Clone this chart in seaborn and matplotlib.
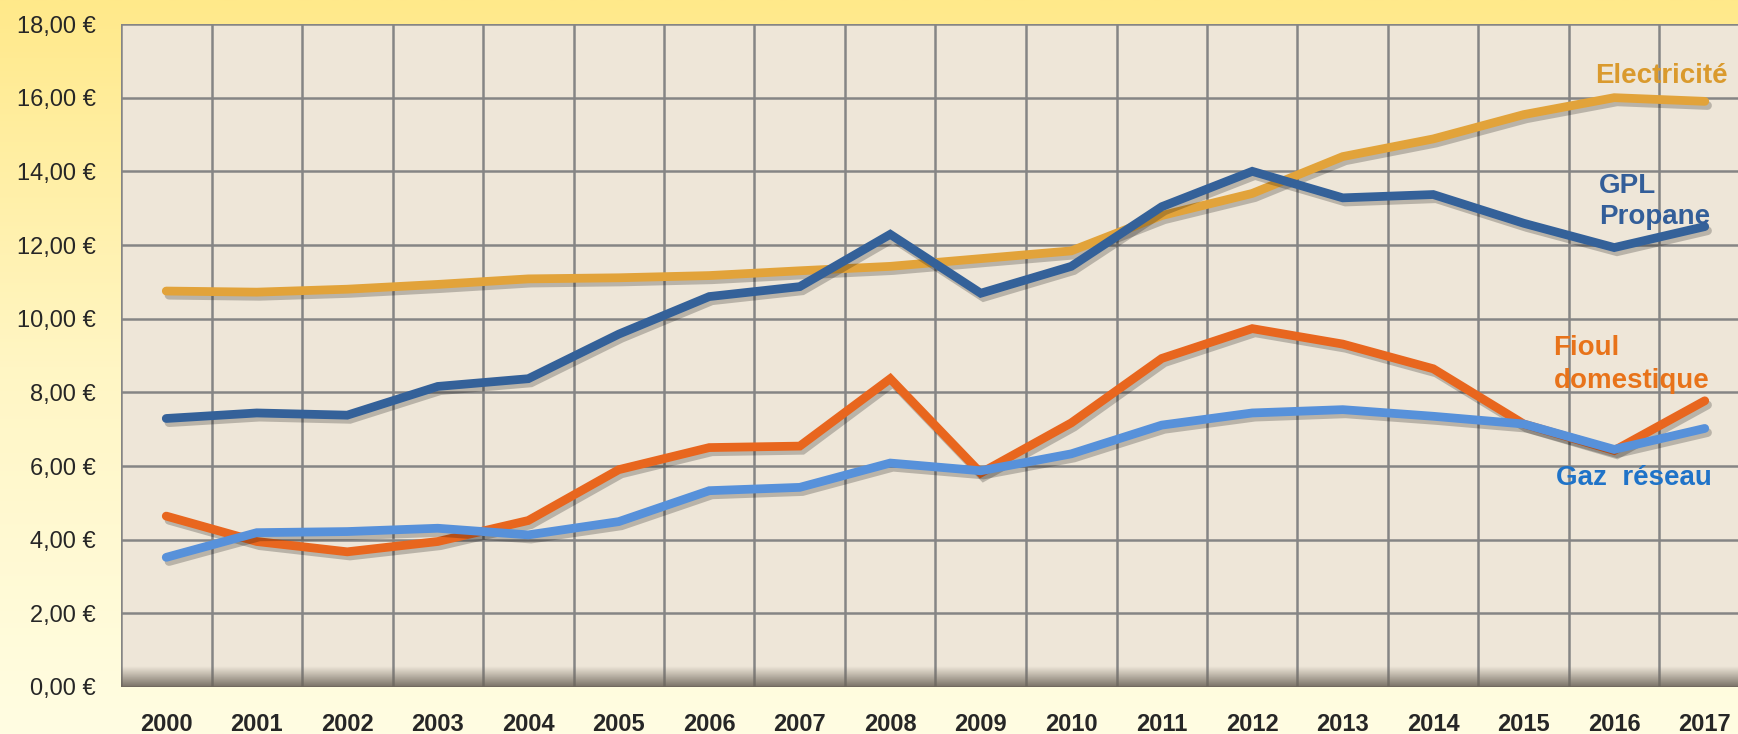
import numpy as np
import pandas as pd
import matplotlib
matplotlib.use("Agg")
import matplotlib.pyplot as plt
import matplotlib.patheffects as pe
from matplotlib.colors import LinearSegmentedColormap
import seaborn as sns

years = [str(y) for y in range(2000, 2018)]
electricite = [10.75, 10.72, 10.80, 10.93, 11.08, 11.11, 11.17, 11.30, 11.42, 11.63, 11.84, 12.80, 13.40, 14.40, 14.88, 15.54, 16.00, 15.90]
gpl = [7.29, 7.44, 7.38, 8.16, 8.37, 9.58, 10.60, 10.87, 12.29, 10.69, 11.42, 13.04, 14.00, 13.28, 13.37, 12.59, 11.93, 12.50]
fioul = [4.64, 3.95, 3.67, 3.95, 4.52, 5.90, 6.50, 6.54, 8.37, 5.81, 7.17, 8.92, 9.73, 9.31, 8.64, 7.14, 6.42, 7.77]
gaz = [3.52, 4.19, 4.22, 4.31, 4.13, 4.49, 5.33, 5.42, 6.08, 5.87, 6.33, 7.11, 7.44, 7.53, 7.35, 7.14, 6.45, 7.02]
series_names = ["Electricité", "GPL Propane", "Fioul domestique", "Gaz réseau"]
yticks = [0, 2, 4, 6, 8, 10, 12, 14, 16, 18]

line_colors = {"Electricité": "#E2A33A", "GPL Propane": "#346199", "Fioul domestique": "#E8661E", "Gaz réseau": "#5791DA"}

idx = list(range(len(years)))
df = pd.concat([
    pd.DataFrame({"x": idx, "value": vals, "serie": name})
    for name, vals in zip(series_names, [electricite, gpl, fioul, gaz])
], ignore_index=True)

sns.set_style("white")
plt.rcParams['font.family'] = ['Liberation Sans', 'DejaVu Sans']

fig = plt.figure(figsize=(17.38, 7.34), dpi=100)

# figure gradient background
bg = fig.add_axes([0, 0, 1, 1], zorder=-10)
grad = np.linspace(0, 1, 256).reshape(-1, 1)
cmap_bg = LinearSegmentedColormap.from_list("bg", ["#FFE98A", "#FFF6C4", "#FFFDE2"])
bg.imshow(grad, aspect="auto", cmap=cmap_bg, extent=[0, 1, 0, 1], origin="upper")
bg.set_axis_off()

ax = fig.add_axes([121 / 1738, 47 / 734, 18 * 90.5 / 1738, 663 / 734])
ax.set_facecolor("#EEE6D8")

# floor shadow at bottom of plot area
floor = np.linspace(0, 1, 64).reshape(-1, 1)
cmap_floor = LinearSegmentedColormap.from_list(
    "floor", [(0.45, 0.42, 0.38, 0.0), (0.42, 0.39, 0.35, 0.9)])
ax.imshow(floor, aspect="auto", cmap=cmap_floor, extent=[-0.5, 17.5, 0, 0.55],
          origin="upper", zorder=1)

sns.lineplot(data=df, x="x", y="value", hue="serie", palette=line_colors,
             linewidth=6.3, legend=False, ax=ax, zorder=5)
for ln in ax.get_lines():
    ln.set_solid_capstyle("round")
    ln.set_solid_joinstyle("miter")
    ln.set_path_effects([pe.SimpleLineShadow(offset=(2, -3), shadow_color="#000000", alpha=0.22),
                         pe.Normal()])

ax.set_xlim(-0.5, 17.5)
ax.set_ylim(0, 18)
ax.set_yticks(yticks)
ax.set_yticklabels([f"{v:.2f}".replace(".", ",") + " €" for v in yticks], fontsize=17)
ax.set_xticks(idx)
ax.set_xticklabels(years, fontsize=17, fontweight="bold")
ax.set_xticks([i - 0.5 for i in range(len(years) + 1)], minor=True)

ax.grid(False)
ax.grid(True, axis="y", which="major", color="#858585", linewidth=1.8, zorder=2)
ax.grid(True, axis="x", which="minor", color="#858585", linewidth=1.8, zorder=2)
ax.set_axisbelow(True)
for s in ax.spines.values():
    s.set_visible(False)
ax.tick_params(axis="x", which="major", length=0, pad=19)
ax.tick_params(axis="x", which="minor", length=6, width=1.8, color="#858585")
ax.tick_params(axis="y", which="major", length=6, width=1.8, color="#858585", pad=12)
ax.set_xlabel("")
ax.set_ylabel("")

lab = dict(fontsize=20, fontweight="bold", zorder=10)
ax.text(16.52, 16.6, "Electricité", color="#DA9A2D", ha="center", va="center", **lab)
ax.text(15.83, 13.6, "GPL", color="#335E99", ha="left", va="center", **lab)
ax.text(15.83, 12.75, "Propane", color="#335E99", ha="left", va="center", **lab)
ax.text(15.33, 9.2, "Fioul", color="#E8731A", ha="left", va="center", **lab)
ax.text(15.33, 8.3, "domestique", color="#E8731A", ha="left", va="center", **lab)
ax.text(15.36, 5.67, "Gaz  réseau", color="#1F73C8", ha="left", va="center", **lab)

fig.savefig("out.png", dpi=100)
